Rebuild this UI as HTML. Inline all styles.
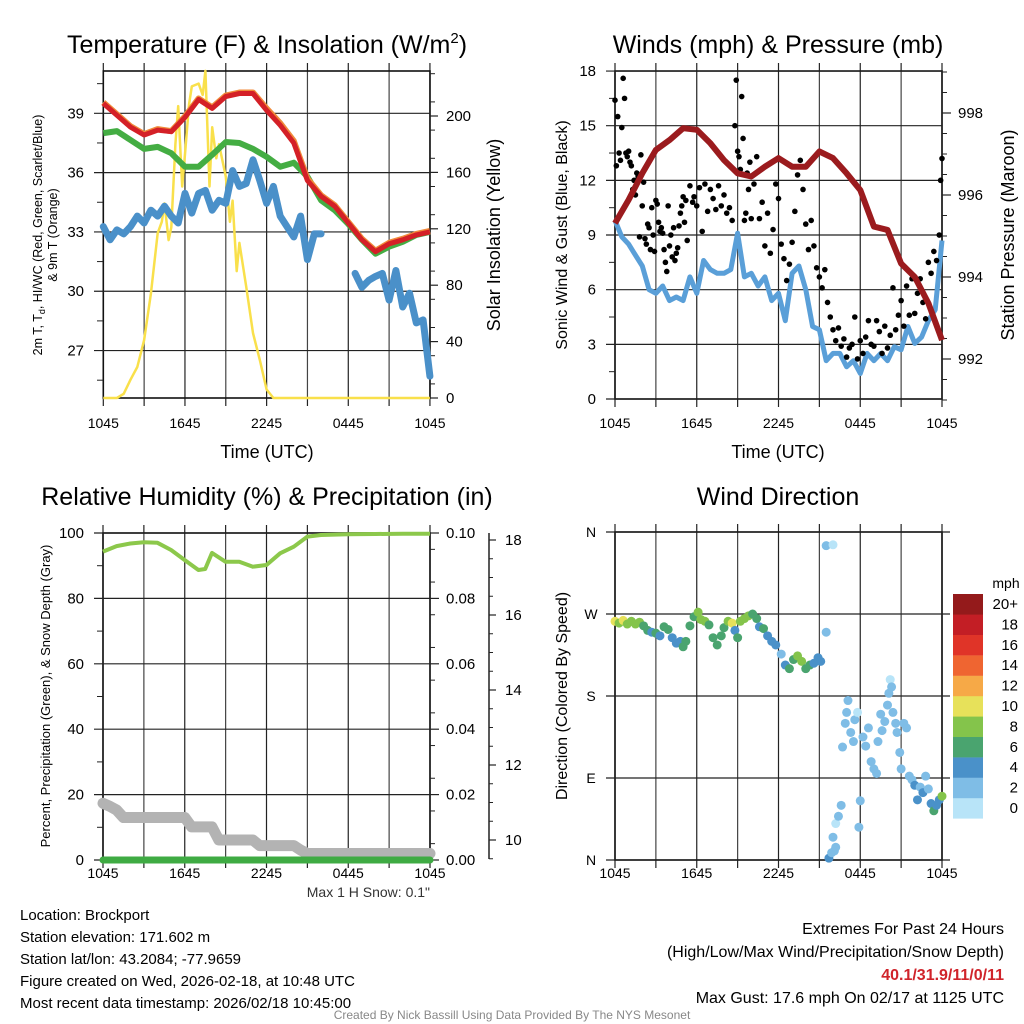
<!DOCTYPE html>
<html><head><meta charset="utf-8">
<style>
html,body{margin:0;padding:0;background:#fff;}
svg{display:block;font-family:"Liberation Sans",Arial,sans-serif;}
</style></head>
<body>
<svg id="chart" width="1024" height="1024" viewBox="0 0 1024 1024" xmlns="http://www.w3.org/2000/svg">
<rect x="0" y="0" width="1024" height="1024" fill="#fff"/>
<g id="g"></g>
<text x="267" y="53" font-size="25" text-anchor="middle">Temperature (F) &amp; Insolation (W/m<tspan dy="-10" font-size="15">2</tspan><tspan dy="10">)</tspan></text>
<text x="778" y="53" font-size="25" text-anchor="middle">Winds (mph) &amp; Pressure (mb)</text>
<text x="267" y="505" font-size="25" text-anchor="middle">Relative Humidity (%) &amp; Precipitation (in)</text>
<text x="778" y="505" font-size="25" text-anchor="middle">Wind Direction</text>
<text x="267" y="458" font-size="18" text-anchor="middle">Time (UTC)</text>
<text x="778" y="458" font-size="18" text-anchor="middle">Time (UTC)</text>
<text transform="translate(42,235) rotate(-90)" font-size="12.5" text-anchor="middle">2m T, T<tspan font-size="9" dy="3">d</tspan><tspan dy="-3">, HI/WC (Red, Green, Scarlet/Blue)</tspan></text>
<text transform="translate(57,235) rotate(-90)" font-size="12.5" text-anchor="middle">&amp; 9m T (Orange)</text>
<text transform="translate(500,235) rotate(-90)" font-size="18" text-anchor="middle">Solar Insolation (Yellow)</text>
<text transform="translate(567,235) rotate(-90)" font-size="16" text-anchor="middle">Sonic Wind &amp; Gust (Blue, Black)</text>
<text transform="translate(1014,235) rotate(-90)" font-size="18" text-anchor="middle">Station Pressure (Maroon)</text>
<text transform="translate(50,696) rotate(-90)" font-size="13" text-anchor="middle">Percent, Precipitation (Green), &amp; Snow Depth (Gray)</text>
<text transform="translate(567,696) rotate(-90)" font-size="16" text-anchor="middle">Direction (Colored By Speed)</text>
<text x="1006" y="588" font-size="14" text-anchor="middle">mph</text>
<text x="430" y="897" font-size="14" fill="#333" text-anchor="end">Max 1 H Snow: 0.1"</text>
<g font-size="15">
<text x="20" y="920">Location: Brockport</text>
<text x="20" y="942">Station elevation: 171.602 m</text>
<text x="20" y="964">Station lat/lon: 43.2084; -77.9659</text>
<text x="20" y="986">Figure created on Wed, 2026-02-18, at 10:48 UTC</text>
<text x="20" y="1008">Most recent data timestamp: 2026/02/18 10:45:00</text>
</g>
<g font-size="16" text-anchor="end">
<text x="1004" y="934">Extremes For Past 24 Hours</text>
<text x="1004" y="957">(High/Low/Max Wind/Precipitation/Snow Depth)</text>
<text x="1004" y="980" fill="#d0242b" font-weight="bold">40.1/31.9/11/0/11</text>
<text x="1004" y="1003">Max Gust: 17.6 mph On 02/17 at 1125 UTC</text>
</g>
<text x="512" y="1019" font-size="12" fill="#888" text-anchor="middle">Created By Nick Bassill Using Data Provided By The NYS Mesonet</text>
</svg>
<script>
// ---- data (hours since 1045 UTC) ----
const hourly = [0,1,2,3,4,5,6,7,8,9,10,11,12,13,14,15,16,17,18,19,20,21,22,23,24];
const tempRed = [39.5,38.9,38.3,37.9,38.15,38.07,38.8,39.7,39.25,39.85,40.0,40.0,39.15,38.4,37.5,35.6,34.8,34.3,33.45,32.6,32.0,32.4,32.6,32.85,33.0];
const tempOrange = [39.55,38.95,38.35,37.95,38.2,38.1,38.85,39.75,39.3,39.9,40.05,40.05,39.25,38.5,37.6,35.7,34.85,34.35,33.5,32.65,32.05,32.45,32.65,32.9,33.05];
const tempGreen = [38.0,38.1,37.65,37.2,37.3,36.98,36.3,36.3,36.9,37.55,37.5,37.2,36.8,36.3,36.5,35.8,34.6,34.1,33.4,32.6,31.9,32.25,32.5,32.85,33.0];
const halfHours = [0,0.5,1,1.5,2,2.5,3,3.5,4,4.5,5,5.5,6,6.5,7,7.5,8,8.5,9,9.5,10,10.5,11,11.5,12,12.5,13,13.5,14,14.5,15,15.5,16,16.5,17,17.5,18,18.5,19,19.5,20,20.5,21,21.5,22,22.5,23,23.5,24];
const tempBlue = [33.27,32.6,33.1,32.9,33.27,33.8,33.45,34.1,33.8,34.3,33.8,33.45,34.95,33.95,34.95,35.1,34.1,34.6,34.45,36.1,35.3,35.45,36.65,35.6,34.45,35.3,33.8,33.27,32.75,33.8,31.6,32.9,32.9,null,null,null,null,30.9,30.2,30.55,30.75,30.9,29.55,31.05,29.2,29.9,28.4,28.55,25.7];
const solarHours = [0,1,1.5,2,2.5,3,3.5,4,4.3,4.5,4.8,5,5.3,5.5,5.8,6,6.3,6.5,7,7.3,7.5,7.8,8,8.3,8.5,9,9.3,9.5,9.8,10,10.5,11,11.5,12,12.5,24];
const solar = [0,0,3,13,22,41,74,117,125,138,112,121,180,207,150,173,208,221,223,215,232,150,192,170,180,157,125,140,90,110,79,46,27,6,0,0];
const windSonic = [9.8,8.9,8.5,7.9,7.3,6.0,5.8,6.2,5.4,5.6,5.4,6.7,5.8,7.6,7.1,6.9,6.9,7.1,9.1,6.7,6.9,6.2,6.7,5.4,5.8,4.3,6.9,7.3,6.0,3.98,3.8,2.1,2.5,2.5,1.77,2.1,1.4,2.5,2.1,2.5,2.1,2.87,2.7,3.98,3.05,3.4,4.3,4.9,8.7];
const pressure = [995.31,995.88,996.53,997.1,997.34,997.63,997.59,997.26,996.85,996.53,996.45,996.69,996.9,996.69,996.69,997.06,996.9,996.53,996.12,995.23,995.15,994.33,994.0,993.36,992.46];
const gustHours = [0,0.1,0.2,0.3,0.4,0.5,0.6,0.7,0.8,0.9,1,1.1,1.2,1.3,1.4,1.5,1.6,1.7,1.8,1.9,2.0,2.1,2.2,2.3,2.4,2.5,2.6,2.7,2.8,2.9,3.0,3.1,3.2,3.3,3.4,3.5,3.6,3.7,3.8,3.9,4.0,4.1,4.2,4.3,4.4,4.5,4.6,4.7,4.8,4.9,5.0,5.1,5.2,5.3,5.5,5.7,5.8,6.0,6.2,6.4,6.6,6.8,7.0,7.2,7.4,7.6,7.8,8.0,8.2,8.4,8.6,8.8,8.9,9.0,9.1,9.2,9.3,9.4,9.5,9.6,9.7,9.8,9.9,10.0,10.2,10.4,10.6,10.8,11.0,11.2,11.4,11.6,11.8,12.0,12.2,12.4,12.6,12.8,13.0,13.2,13.4,13.6,13.8,14.0,14.2,14.4,14.6,14.8,15.0,15.2,15.4,15.6,15.8,16.0,16.2,16.4,16.6,16.8,17.0,17.2,17.4,17.6,17.8,18.0,18.2,18.4,18.6,18.8,19.0,19.2,19.4,19.6,19.8,20.0,20.2,20.4,20.6,20.8,21.0,21.2,21.4,21.6,21.8,22.0,22.2,22.4,22.6,22.8,23.0,23.2,23.4,23.6,23.8,23.9,24.0];
const gusts = [16.4,12.8,15.5,13.5,13.1,14.9,17.6,16.5,13.5,13.3,13.6,13.0,12.8,11.5,12.0,11.2,12.4,12.2,8.9,13.4,10.6,11.9,8.8,8.5,9.6,9.4,8.2,10.5,9.0,8.1,10.9,10.7,9.7,9.2,9.4,9.1,8.2,7.5,7.0,10.6,8.4,9.0,7.8,9.4,7.6,8.0,8.3,9.5,10.2,10.6,11.1,9.7,10.9,8.7,11.7,10.8,11.1,10.6,11.6,9.2,11.8,10.3,11.5,11.0,10.4,11.7,10.6,11.2,10.2,10.5,9.8,15.0,17.5,13.6,13.3,12.6,16.6,14.3,9.8,10.2,12.4,11.5,13.0,9.9,11.8,13.3,9.9,10.8,8.4,10.2,8.0,9.3,11.8,11.0,8.5,7.7,6.5,7.4,8.6,10.3,12.3,13.1,11.5,9.6,8.2,9.8,8.4,7.2,6.7,6.1,7.1,5.3,4.5,3.8,3.2,3.9,2.9,3.3,2.3,2.8,3.0,4.5,2.2,3.2,2.5,3.4,4.3,3.0,2.9,4.3,3.7,2.5,4.0,2.8,3.5,6.1,3.8,4.6,5.4,4.0,6.2,4.6,6.6,4.7,5.8,6.6,5.3,4.4,7.5,6.9,8.1,7.6,9.0,12.0,13.2];
const rhHours = [0,1,2,3,4,5,6,7,7.5,8,9,10,11,12,13,14,15,16,17,18,20,22,24];
const rh = [94.3,96,96.8,97.2,97,94.8,91.7,88.7,89.0,93.9,91.2,91.2,89.7,90.2,93.8,95.8,98.9,99.4,99.5,99.6,99.7,99.8,99.8];
const precipHours = [0,24];
const precip = [0,0];
const snowHours = [0,0.5,1,1.5,2,6,6.5,8,8.5,11,11.5,14,14.5,15,24];
const snowDepth = [10.98,10.9,10.8,10.6,10.6,10.6,10.35,10.35,10.0,10.0,9.85,9.85,9.73,9.64,9.64];
const dirHours = [0,0.3,0.6,0.9,1.2,1.5,1.8,2.1,2.4,2.7,3.0,3.3,3.6,3.9,4.2,4.5,4.8,5.0,5.2,5.5,5.8,6.1,6.3,6.6,6.9,7.2,7.5,7.8,8.0,8.3,8.6,8.8,9.0,9.2,9.5,9.8,10.1,10.4,10.6,10.9,11.2,11.5,11.8,12.2,12.5,12.8,13.1,13.4,13.7,14.0,14.3,14.6,14.9,15.1,15.5,15.5,16.0,15.7,15.9,16.1,16.2,16.0,16.2,16.4,16.6,16.7,16.9,17.0,17.1,17.3,17.5,17.6,17.8,17.9,18.0,18.2,18.4,18.6,18.8,19.0,19.2,19.3,19.5,19.6,19.8,20.0,20.1,20.2,20.3,20.4,20.6,20.7,20.9,21.0,21.2,21.4,21.6,21.8,22.0,22.2,22.4,22.6,22.8,23.0,23.2,23.4,23.6,23.8,24.0];
const dirDeg = [262,260,263,259,262,259,261,257,252,250,249,246,256,253,244,238,240,234,240,257,267,272,264,262,258,244,236,246,255,262,260,252,244,262,265,268,270,265,256,254,246,240,236,226,214,210,220,224,218,210,214,216,222,218,250,345,346,2,8,10,14,25,40,48,60,124,150,162,175,140,130,154,162,36,65,135,125,145,108,100,95,130,160,142,152,170,183,198,190,162,150,140,118,100,150,145,92,88,82,66,80,74,92,78,62,54,60,66,70];
const dirSpeed = [10,7,10,8,8,8,8,6,6,4,6,4,6,6,4,4,4,6,6,6,6,8,8,8,6,6,6,6,6,8,10,4,6,8,8,8,6,6,4,6,4,4,4,2,4,6,6,8,8,6,6,4,4,4,2,2,0,4,2,2,2,2,0,2,2,2,2,2,2,2,2,2,0,2,2,2,2,2,2,2,2,2,2,2,2,2,2,0,2,2,2,2,2,2,2,2,2,2,4,4,2,4,2,2,4,6,4,4,8];
const speedColors = ['#b8e4f8','#7fbde6','#4a91c9','#4aa46f','#84c44b','#e7e15a','#f6a947','#ef6531','#e03428','#c31e25','#941a1b'];
const speedLabels = ['0','2','4','6','8','10','12','14','16','18','20+'];
const timeLabels = ['1045','1645','2245','0445','1045'];
const tempTicks = [27,30,33,36,39];
const solarTicks = [0,40,80,120,160,200];
const windTicks = [0,3,6,9,12,15,18];
const pressTicks = [992,994,996,998];
const rhTicks = [0,20,40,60,80,100];
const precipTicks = ['0.00','0.02','0.04','0.06','0.08','0.10'];
const snowTicks = [10,12,14,16,18];
const dirTicks = ['N','E','S','W','N'];

// ---- scales ----
const X1 = h => 103.3 + h*13.61;
const TY = t => 113.3 + (39 - t)*19.77;
const IY = v => 398 - v*1.41;
const X2 = h => 615 + h*13.625;
const WY = w => 399 - w*18.22;
const PY = p => 113 + (998 - p)*41;
const X3 = h => 103 + h*13.625;
const RY = r => 860 - r*3.27;
const PrY = p => 860 - p*3270;
const SY = s => 840 - (s - 10)*37.5;
const DY = d => 860 - d*0.9111;

const NS = 'http://www.w3.org/2000/svg';
const G = document.getElementById('g');
function mk(tag, attrs, parent){const e=document.createElementNS(NS,tag);for(const k in attrs)e.setAttribute(k,attrs[k]);(parent||G).appendChild(e);return e;}
function line(x1,y1,x2,y2,stroke,w,parent){return mk('line',{x1,y1,x2,y2,stroke,'stroke-width':w},parent);}
function txt(x,y,s,anchor,size,parent){const t=mk('text',{x,y,'text-anchor':anchor,'font-size':size},parent);t.textContent=s;return t;}
function pathFrom(xs,ys,fx,fy){let d='',pen=false;for(let i=0;i<xs.length;i++){if(ys[i]===null){pen=false;continue;}d+=(pen?'L':'M')+fx(xs[i]).toFixed(1)+','+fy(ys[i]).toFixed(1);pen=true;}return d;}

function frame(name,x0,x1,y0,y1,xf){
  const g=mk('g',{});
  
  
  for(let i=0;i<=8;i++){const x=xf(i*3);line(x,y0,x,y1,i%2?'#444':'#222',1.2,g);line(x,y0-8,x,y0,'#222',1.2,g);line(x,y1,x,y1+8,'#222',1.2,g);}
  mk('rect',{x:x0,y:y0,width:x1-x0,height:y1-y0,fill:'none',stroke:'#111','stroke-width':1.6},g);
  for(let i=0;i<5;i++){txt(xf(i*6),y0>500?878:428,timeLabels[i],'middle',14,g);}
  return g;
}

// Panel 1
const f1=frame('temperature-panel',103.3,430,71,398,X1);
tempTicks.forEach(t=>{line(94,TY(t),430,TY(t),'#222',1.2,f1);txt(84,TY(t)+5,String(t),'end',15,f1);});
for(let t=25.5;t<41;t+=3){line(97,TY(t),103,TY(t),'#222',1,f1);}
solarTicks.forEach(v=>{line(430,IY(v),438,IY(v),'#222',1.2,f1);txt(446,IY(v)+5,String(v),'start',15,f1);});
for(let v=10;v<235;v+=20){line(430,IY(v),435,IY(v),'#222',1,f1);}
const solarPath=mk('path',{d:pathFrom(solarHours,solar,X1,IY),fill:'none',stroke:'#f9e04b','stroke-width':2.5,'stroke-linejoin':'round'});


const blue1=mk('path',{d:pathFrom(halfHours,tempBlue,X1,TY),fill:'none',stroke:'#4a90c9','stroke-width':7,'stroke-linejoin':'round','stroke-linecap':'round'});


const green1=mk('path',{d:pathFrom(hourly,tempGreen,X1,TY),fill:'none',stroke:'#44ad43','stroke-width':6,'stroke-linejoin':'round'});


const orange1=mk('path',{d:pathFrom(hourly,tempOrange,X1,TY),fill:'none',stroke:'#f08a3a','stroke-width':6,'stroke-linejoin':'round'});


const red1=mk('path',{d:pathFrom(hourly,tempRed,X1,TY),fill:'none',stroke:'#d42027','stroke-width':5,'stroke-linejoin':'round'});



// Panel 2
const f2=frame('winds-panel',615,942,71,399,X2);
windTicks.forEach(w=>{line(606,WY(w),942,WY(w),'#222',1.2,f2);txt(596,WY(w)+5,String(w),'end',15,f2);});
for(let w=1.5;w<18;w+=3){line(609,WY(w),615,WY(w),'#222',1,f2);}
pressTicks.forEach(p=>{line(942,PY(p),951,PY(p),'#222',1.2,f2);txt(958,PY(p)+5,String(p),'start',15,f2);});
for(let p=991;p<999.1;p+=0.5){line(942,PY(p),947,PY(p),'#222',1,f2);}
const sonic=mk('path',{d:pathFrom(halfHours,windSonic,X2,WY),fill:'none',stroke:'#5a9fd8','stroke-width':5,'stroke-linejoin':'round'});


const gustG=mk('g',{});


gustHours.forEach((h,i)=>{const c=mk('circle',{cx:X2(h),cy:WY(gusts[i]),r:2.8,fill:'#000'},gustG);

});
const press=mk('path',{d:pathFrom(hourly,pressure,X2,PY),fill:'none',stroke:'#9b1b1e','stroke-width':6,'stroke-linejoin':'round'});



// Panel 3
const f3=frame('humidity-panel',103,430,533,860,X3);
rhTicks.forEach((r,i)=>{line(94,RY(r),430,RY(r),'#222',1.2,f3);txt(84,RY(r)+5,String(r),'end',15,f3);line(430,RY(r),439,RY(r),'#222',1.2,f3);txt(446,RY(r)+5,precipTicks[i],'start',15,f3);});
for(let r=10;r<100;r+=20){line(97,RY(r),103,RY(r),'#222',1,f3);}
for(let r=5;r<100;r+=10){line(430,RY(r),435,RY(r),'#222',1,f3);}
line(489,533,489,859,'#222',1.5,f3);
snowTicks.forEach(s=>{line(489,SY(s),496,SY(s),'#222',1.2,f3);txt(505,SY(s)+5,String(s),'start',15,f3);});
for(let s=9.5;s<18.3;s+=0.5){line(489,SY(s),493,SY(s),'#222',1,f3);}
const snow=mk('path',{d:pathFrom(snowHours,snowDepth,X3,SY),fill:'none',stroke:'#b3b3b3','stroke-width':11,'stroke-linejoin':'round','stroke-linecap':'round'});


const pr=mk('path',{d:pathFrom(precipHours,precip,X3,PrY),fill:'none',stroke:'#3fab43','stroke-width':7,'stroke-linecap':'round'});


const rhl=mk('path',{d:pathFrom(rhHours,rh,X3,RY),fill:'none',stroke:'#8cc84b','stroke-width':4,'stroke-linejoin':'round'});



// Panel 4
const f4=frame('wind-direction-panel',615,942,532,860,X2);
dirTicks.forEach((d,i)=>{const y=DY(i*90);line(606,y,950,y,'#222',1.2,f4);txt(591,y+5,d,'middle',14,f4);});
const dirG=mk('g',{});


dirHours.forEach((h,i)=>{const c=mk('circle',{cx:X2(h),cy:DY(dirDeg[i]),r:4.5,fill:speedColors[Math.min(10,Math.round(dirSpeed[i]/2))]},dirG);

});
const cb=mk('g',{});


speedColors.forEach((c,i)=>{const y=594+(10-i)*20.4;const r=mk('rect',{x:953,y:y,width:30,height:20.6,fill:c},cb);


txt(1018,y+15,speedLabels[i],'end',15,cb);});
</script>
</body></html>
